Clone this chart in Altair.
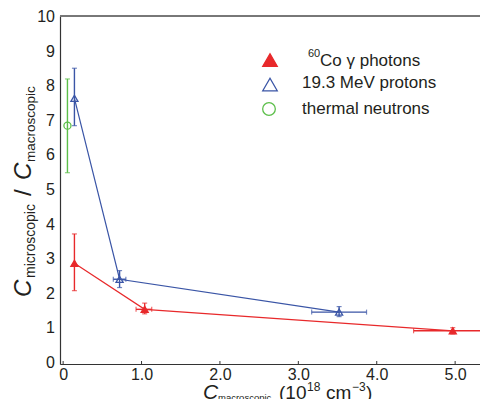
import altair as alt
import pandas as pd

# ---- data ----
series_names = ["60Co \u03b3 photons", "19.3 MeV protons", "thermal neutrons"]
series_colors = ["#e8292b", "#3a55a6", "#5cbf4a"]
series_shapes = ["triangle-up", "triangle-up", "circle"]
series_fills = ["#e8292b", "transparent", "transparent"]

photon_x = [0.144, 1.04, 4.97]
photon_y = [2.85, 1.52, 0.90]
photon_ylo = [2.06, 1.39, 0.81]
photon_yhi = [3.70, 1.70, 0.99]
photon_xlo = [0.144, 0.93, 4.47]
photon_xhi = [0.144, 1.13, 5.47]

proton_x = [0.144, 0.72, 3.52]
proton_y = [7.62, 2.39, 1.44]
proton_ylo = [6.83, 2.15, 1.31]
proton_yhi = [8.49, 2.64, 1.60]
proton_xlo = [0.144, 0.64, 3.17]
proton_xhi = [0.144, 0.80, 3.87]

neutron_x = [0.055]
neutron_y = [6.83]
neutron_ylo = [5.47]
neutron_yhi = [8.18]
neutron_xlo = [0.055]
neutron_xhi = [0.055]

x_ticks = [0, 1, 2, 3, 4, 5]
y_ticks = [0, 1, 2, 3, 4, 5, 6, 7, 8, 9, 10]

rows = []
for name, xs, ys, ylo, yhi, xlo, xhi in [
    (series_names[0], photon_x, photon_y, photon_ylo, photon_yhi, photon_xlo, photon_xhi),
    (series_names[1], proton_x, proton_y, proton_ylo, proton_yhi, proton_xlo, proton_xhi),
    (series_names[2], neutron_x, neutron_y, neutron_ylo, neutron_yhi, neutron_xlo, neutron_xhi),
]:
    for i in range(len(xs)):
        rows.append(dict(series=name, x=xs[i], y=ys[i], ylo=ylo[i], yhi=yhi[i],
                         xlo=xlo[i], xhi=xhi[i], has_xerr=xlo[i] != xhi[i]))
df = pd.DataFrame(rows)

W, H = 420, 348
PX_PER_X = 78.4
X0 = -0.04
FONT = "Liberation Sans"
TXT = "#231f20"

xscale = alt.Scale(domain=[X0, X0 + W / PX_PER_X], nice=False, zero=False)
yscale = alt.Scale(domain=[-0.06, 10], nice=False, zero=False)
cscale = alt.Scale(domain=series_names, range=series_colors)

X = alt.X("x:Q", scale=xscale,
          axis=alt.Axis(values=x_ticks, title=None, grid=False, tickSize=0, labelOverlap=False,
                        labelExpr="datum.value == 0 ? '0' : format(datum.value, '.1f')",
                        labelFontSize=16, labelFont=FONT, labelColor=TXT, labelPadding=2,
                        domainColor="#333", domainWidth=1.2))
Y = alt.Y("y:Q", scale=yscale,
          axis=alt.Axis(values=y_ticks, title=None, grid=False, tickSize=0, labels=False,
                        domainColor="#333", domainWidth=1.2))

base = alt.Chart(df)
col = alt.Color("series:N", scale=cscale, legend=None)

lines = base.transform_filter(alt.datum.series != series_names[2]).mark_line(
    strokeWidth=1.2, clip=True).encode(x=X, y=Y, color=col, order="x:Q")

yerr = base.mark_rule(strokeWidth=1.4, clip=True).encode(
    x="x:Q", y="ylo:Q", y2="yhi:Q", color=col)
ycap_lo = base.mark_tick(orient="horizontal", size=5, thickness=1.2, clip=True).encode(
    x="x:Q", y="ylo:Q", color=col)
ycap_hi = base.mark_tick(orient="horizontal", size=5, thickness=1.2, clip=True).encode(
    x="x:Q", y="yhi:Q", color=col)

xd = base.transform_filter(alt.datum.has_xerr)
xerr = xd.mark_rule(strokeWidth=1.4, clip=True).encode(
    y="y:Q", x="xlo:Q", x2="xhi:Q", color=col)
xcap_lo = xd.mark_tick(orient="vertical", size=5, thickness=1.2, clip=True).encode(
    x="xlo:Q", y="y:Q", color=col)
xcap_hi = xd.mark_tick(orient="vertical", size=5, thickness=1.2, clip=True).encode(
    x="xhi:Q", y="y:Q", color=col)

shape_scale = alt.Scale(domain=series_names, range=series_shapes)
fill_scale = alt.Scale(domain=series_names, range=series_fills)
points = base.mark_point(size=50, strokeWidth=1.3, opacity=1, clip=True).encode(
    x="x:Q", y="y:Q",
    shape=alt.Shape("series:N", scale=shape_scale, legend=None),
    stroke=alt.Stroke("series:N", scale=cscale, legend=None),
    fill=alt.Fill("series:N", scale=fill_scale, legend=None),
)

# y tick labels, positioned through the y scale
ylab_df = pd.DataFrame({"v": y_ticks})
ylabels = alt.Chart(ylab_df).mark_text(
    align="right", baseline="middle", font=FONT, fontSize=16, color=TXT, dy=1
).encode(x=alt.value(-5), y="v:Q", text=alt.Text("v:Q", format="d"))

# inward ticks on x axis
tick_df = pd.DataFrame({"t": x_ticks})
xticks = alt.Chart(tick_df).mark_rule(color="#333", strokeWidth=1).encode(
    x="t:Q", y=alt.value(H), y2=alt.value(H - 3))

# frame top
top = alt.Chart(tick_df).mark_rule(color="#777", strokeWidth=1.2).encode(
    x=alt.value(0), x2=alt.value(W), y=alt.value(0))


def txt(text, x, y, size, angle=0, italic=False):
    return alt.Chart(pd.DataFrame({"s": [text]})).mark_text(
        text=text, font=FONT, fontSize=size, fontStyle="italic" if italic else "normal",
        color=TXT, align="left", baseline="alphabetic", angle=angle
    ).encode(x=alt.value(x), y=alt.value(y))


# legend (symbols + labels), placed at the upper right of the plot
leg_x, leg_y0, leg_dy = 210, 44, 24.5
legend_layers = []
for i, name in enumerate(series_names):
    sym_size = 210 if series_shapes[i] == "triangle-up" else 160
    legend_layers.append(
        alt.Chart(pd.DataFrame({"series": [name]})).mark_point(
            shape=series_shapes[i], size=sym_size, strokeWidth=1.3, opacity=1,
            fill=series_fills[i], stroke=series_colors[i]
        ).encode(x=alt.value(leg_x - (1 if i == 2 else 0)), y=alt.value(leg_y0 + i * leg_dy))
    )
legend_layers += [
    txt("60", 248, 41, 11),
    txt("Co \u03b3 photons", 260, 50, 17),
    txt(series_names[1], 242, 72, 17),
    txt(series_names[2], 242, 98, 17),
]

# y title (rotated, reading bottom to top); positions relative to plot origin
yx = -29
ytitle = [
    txt("C", yx, 281, 24, 270, True),
    txt("microscopic", yx + 4, 262, 14, 270),
    txt("/", yx, 180, 24, 270),
    txt("C", yx, 164, 24, 270, True),
    txt("macroscopic", yx + 4, 146, 13.5, 270),
]
# x title
bx = 383
xtitle = [
    txt("C", 143, bx, 21, 0, True),
    txt("macroscopic", 158, bx + 2, 9.5),
    txt("(10", 219, bx, 19),
    txt("18", 247, bx - 8, 12),
    txt("cm", 266, bx, 19),
    txt("\u22123", 292, bx - 8, 12),
    txt(")", 306, bx, 19),
]

chart = alt.layer(lines, yerr, ycap_lo, ycap_hi, xerr, xcap_lo, xcap_hi, points,
                  ylabels, xticks, top, *legend_layers, *ytitle, *xtitle).properties(
    width=W, height=H,
    autosize=alt.AutoSizeParams(type="none"),
    padding={"left": 52, "top": 8, "right": 0, "bottom": 35},
).configure_view(stroke=None).configure(background="white")

chart.save("out.html", embed_options={"renderer": "svg", "actions": False})
